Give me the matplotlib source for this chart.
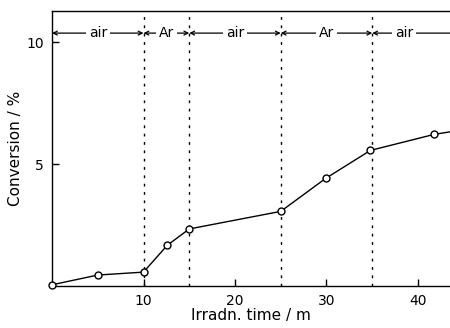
import matplotlib
matplotlib.use("Agg")
import matplotlib.pyplot as plt

time_min = [0, 5, 10, 12.6, 15, 25, 29.9, 34.8, 41.8, 44.5]
conversion = [0.05, 0.45, 0.57, 1.67, 2.34, 3.06, 4.41, 5.56, 6.22, 6.38]
boundaries = [10, 15, 25, 35]
segments = [(0, 10, "air"), (10, 15, "Ar"), (15, 25, "air"), (25, 35, "Ar"), (35, 44.5, "air")]
xticks = [10, 20, 30, 40]
yticks = [5, 10]

plt.rcParams['font.family'] = ['DejaVu Sans']
fig = plt.figure(figsize=(4.5, 3.28), dpi=100)
ax = fig.add_axes([0.1156, 0.128, 0.8844, 0.838])
ax.set_xlim(0, 43.5)
ax.set_ylim(0, 11.27)

ax.plot(time_min[:-1], conversion[:-1], color='black', lw=1.0, marker='o',
        markersize=5.0, markerfacecolor='white', markeredgecolor='black',
        markeredgewidth=1.0, clip_on=False, zorder=3)
ax.plot(time_min[-2:], conversion[-2:], color='black', lw=1.0, zorder=2)

for b in boundaries:
    ax.axvline(b, color='black', lw=1.0, linestyle=(0, (2, 4)), zorder=1)

y_arrow = 10.37
for a, b, lab in segments:
    ax.annotate('', xy=(a, y_arrow), xytext=(b, y_arrow),
                arrowprops=dict(arrowstyle='<->', lw=0.9, color='black',
                                shrinkA=0, shrinkB=0, mutation_scale=7),
                annotation_clip=False)
    mid = (a + b) / 2 if b < 43 else 38.5
    ax.text(mid, y_arrow, lab, ha='center', va='center', fontsize=10,
            bbox=dict(facecolor='white', edgecolor='none', pad=2), zorder=4)

ax.set_xticks(xticks)
ax.set_yticks(yticks)
ax.tick_params(direction='in', length=5, width=1, labelsize=10, pad=6)
ax.spines['right'].set_visible(False)
for s in ['left', 'top', 'bottom']:
    ax.spines[s].set_linewidth(1.0)

ax.set_xlabel('Irradn. time / m', fontsize=11, labelpad=0)
ax.set_ylabel('Conversion / %', fontsize=11, labelpad=2)

fig.savefig('out.png', dpi=100)
